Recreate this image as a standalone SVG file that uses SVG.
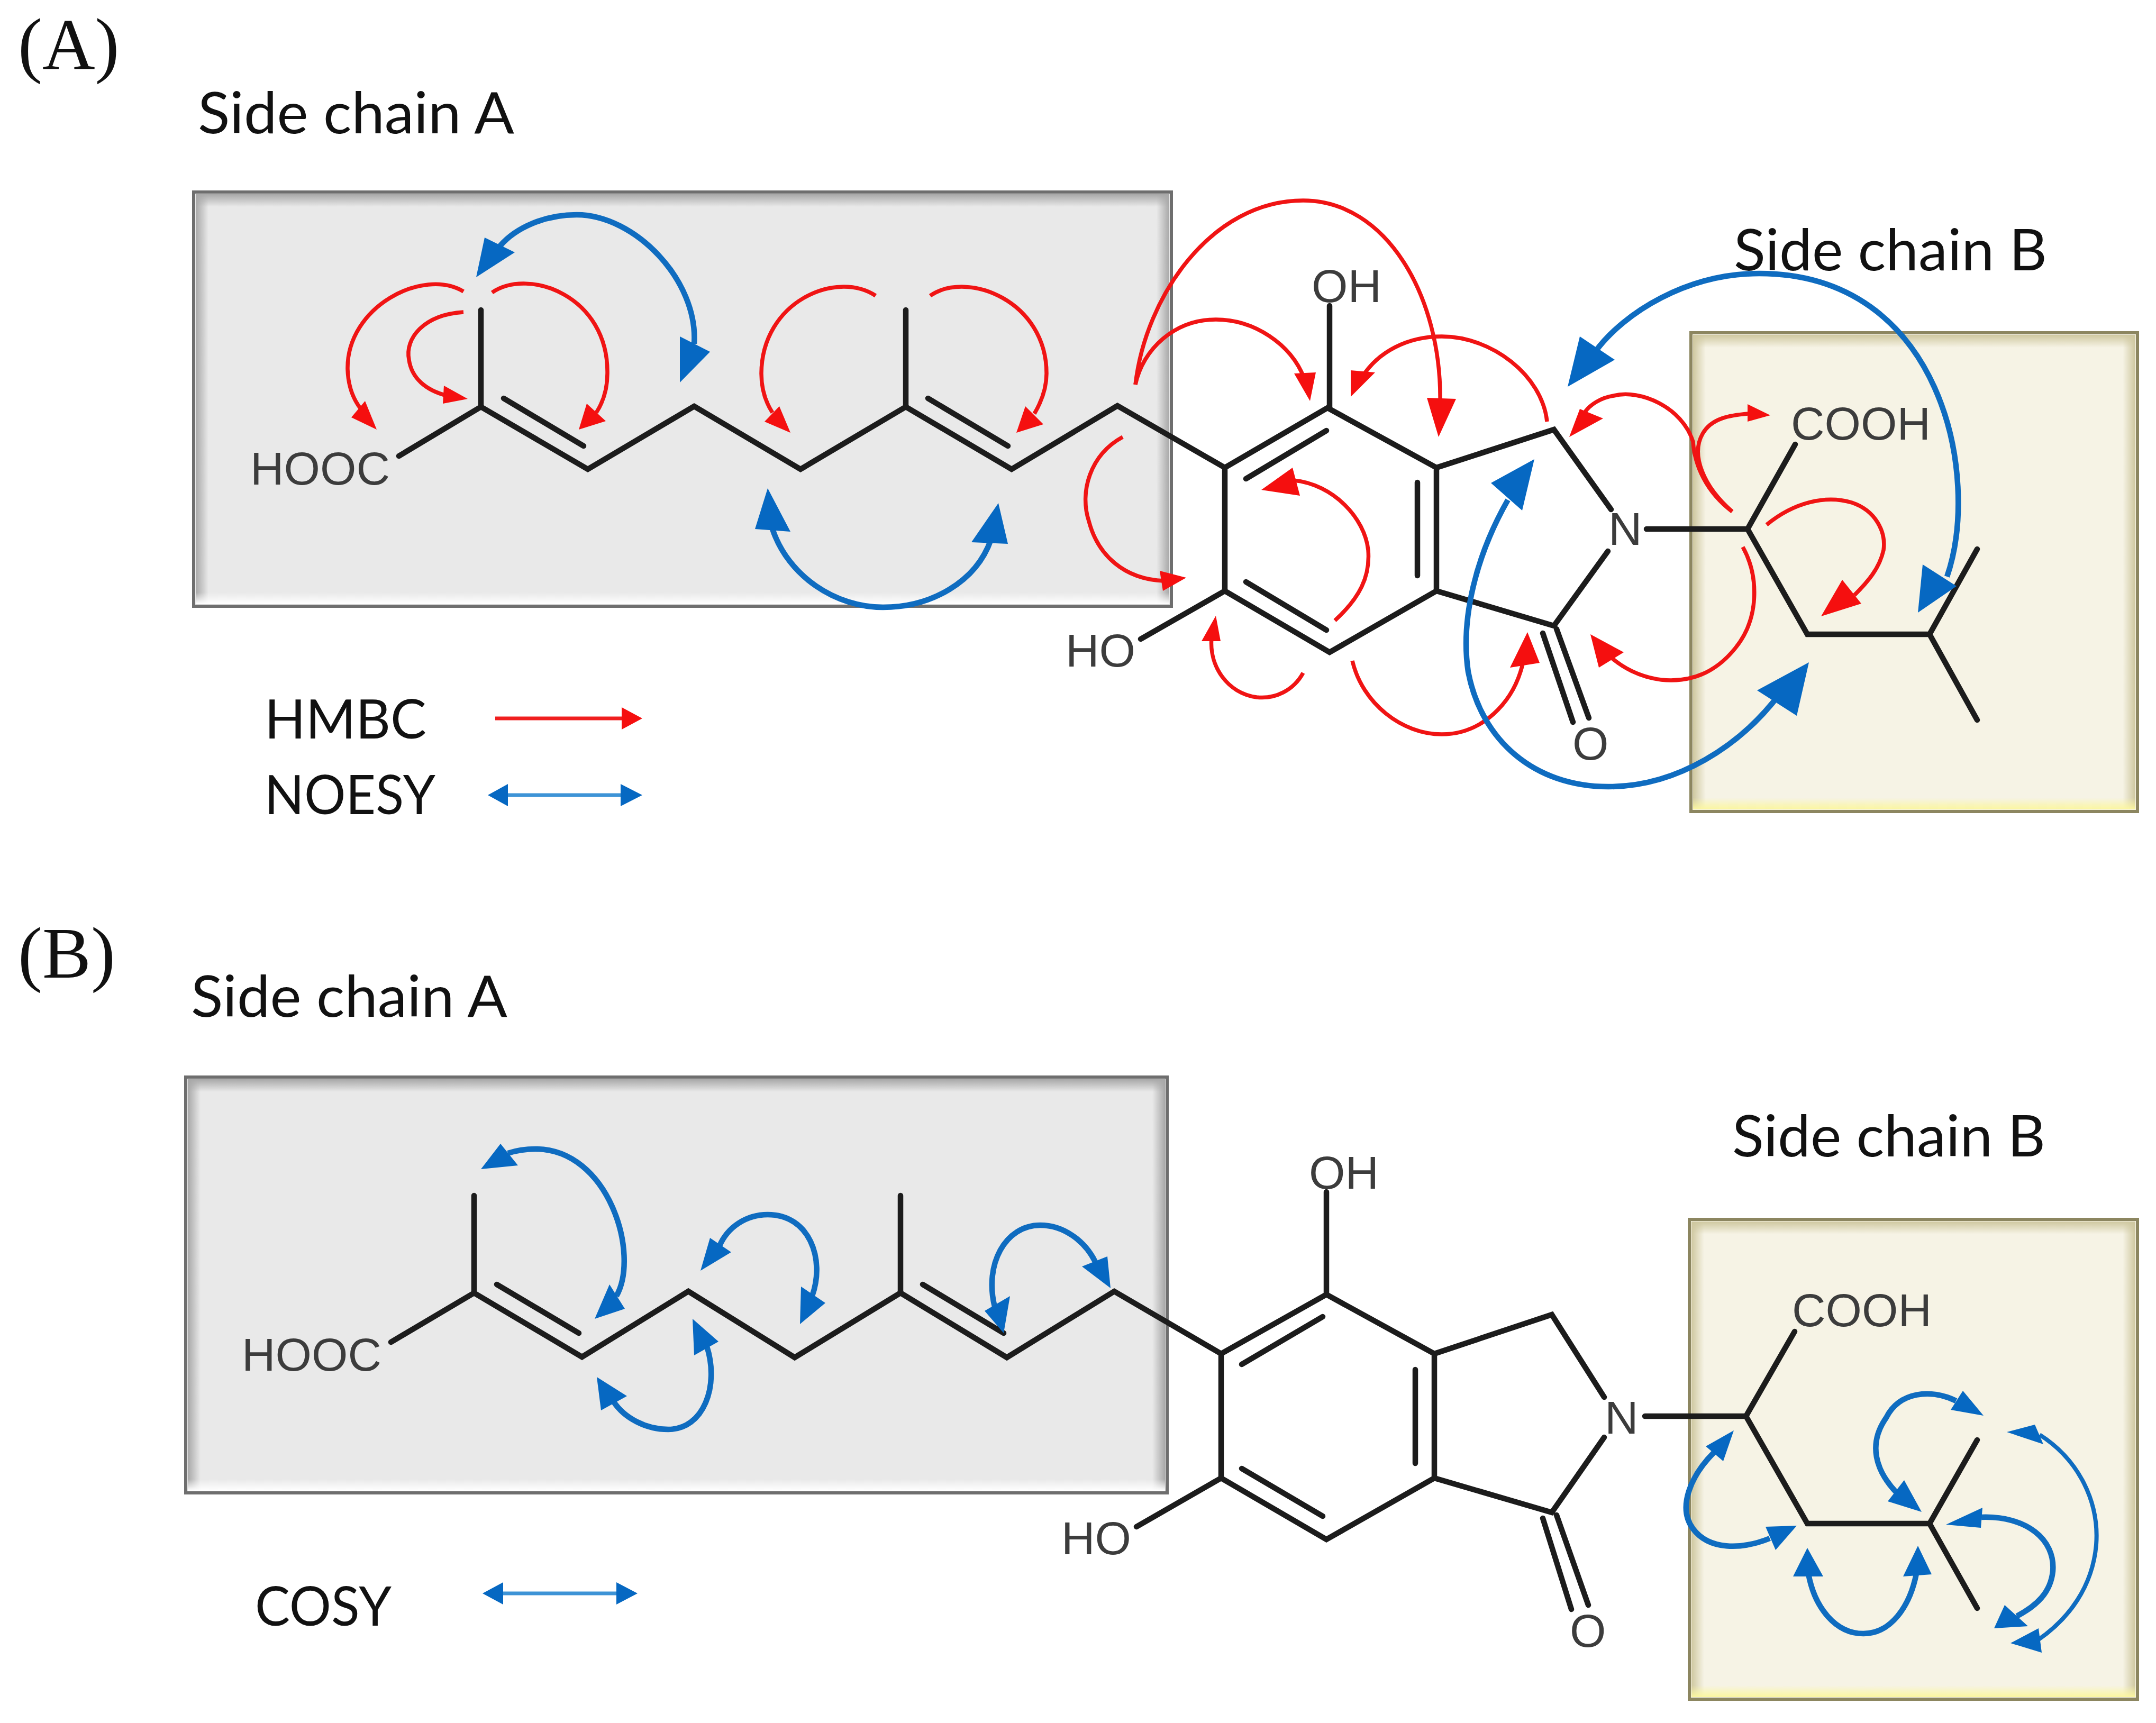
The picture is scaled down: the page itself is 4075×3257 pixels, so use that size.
<svg xmlns="http://www.w3.org/2000/svg" width="4075" height="3257" viewBox="0 0 4075 3257">
<style>
.box-g{fill:#e9e9e9;stroke:#6e6e6e;stroke-width:6}
.box-y{fill:#f6f3e5;stroke:#8c8660;stroke-width:6}
.b{fill:none;stroke:#1c1c1c;stroke-width:10.5;stroke-linecap:round;stroke-linejoin:miter}
.lbl{font-family:"Lato","Liberation Sans",sans-serif;fill:#111}
.s{font-size:108px}
.t{font-size:103px}
.chem{font-family:"Liberation Sans",Arial,sans-serif;fill:#3c3c3c}
.c88{font-size:88px}
.paren{font-family:"Liberation Serif","Times New Roman",serif;font-size:138px;fill:#111}
.r{fill:none;stroke:#f01414;stroke-width:7.5}
.rh{fill:#f50f0f}
.u{fill:none;stroke:#0f6cc0;stroke-width:10.5}
.v{fill:none;stroke:#0f6cc0;stroke-width:8}
.uh{fill:#0668c2}
.lg{fill:none;stroke:#3d93d6;stroke-width:7}
.lr{fill:none;stroke:#f01e1e;stroke-width:7}
</style>
<defs>
<linearGradient id="gT" x1="0" y1="0" x2="0" y2="1"><stop offset="0" stop-color="#a8a8a8"/><stop offset="1" stop-color="#a8a8a8" stop-opacity="0"/></linearGradient>
<linearGradient id="gL" x1="0" y1="0" x2="1" y2="0"><stop offset="0" stop-color="#a8a8a8"/><stop offset="1" stop-color="#a8a8a8" stop-opacity="0"/></linearGradient>
<linearGradient id="gR" x1="1" y1="0" x2="0" y2="0"><stop offset="0" stop-color="#a8a8a8"/><stop offset="1" stop-color="#a8a8a8" stop-opacity="0"/></linearGradient>
<linearGradient id="gB" x1="0" y1="1" x2="0" y2="0"><stop offset="0" stop-color="#ffffff"/><stop offset="1" stop-color="#ffffff" stop-opacity="0"/></linearGradient>
<linearGradient id="yT" x1="0" y1="0" x2="0" y2="1"><stop offset="0" stop-color="#cfc8a0"/><stop offset="1" stop-color="#cfc8a0" stop-opacity="0"/></linearGradient>
<linearGradient id="yL" x1="0" y1="0" x2="1" y2="0"><stop offset="0" stop-color="#cfc8a0"/><stop offset="1" stop-color="#cfc8a0" stop-opacity="0"/></linearGradient>
<linearGradient id="yR" x1="1" y1="0" x2="0" y2="0"><stop offset="0" stop-color="#cfc8a0"/><stop offset="1" stop-color="#cfc8a0" stop-opacity="0"/></linearGradient>
<linearGradient id="yB" x1="0" y1="1" x2="0" y2="0"><stop offset="0" stop-color="#fbf6a0"/><stop offset="1" stop-color="#fbf6a0" stop-opacity="0"/></linearGradient>
</defs>

<g id="box-a-chain-a">
<rect class="box-g" x="366" y="363" width="1848" height="783"/>
<rect x="370" y="367" width="1840" height="24" fill="url(#gT)"/>
<rect x="370" y="367" width="24" height="775" fill="url(#gL)"/>
<rect x="2186" y="367" width="24" height="775" fill="url(#gR)"/>
<rect x="370" y="1120" width="1840" height="22" fill="url(#gB)"/>
</g>
<g id="box-a-chain-b">
<rect class="box-y" x="3196" y="629" width="844" height="905"/>
<rect x="3200" y="633" width="836" height="24" fill="url(#yT)"/>
<rect x="3200" y="633" width="24" height="897" fill="url(#yL)"/>
<rect x="4012" y="633" width="24" height="897" fill="url(#yR)"/>
<rect x="3200" y="1508" width="836" height="22" fill="url(#yB)"/>
</g>
<g id="box-b-chain-a">
<rect class="box-g" x="351" y="2036" width="1855" height="786"/>
<rect x="355" y="2040" width="1847" height="24" fill="url(#gT)"/>
<rect x="355" y="2040" width="24" height="778" fill="url(#gL)"/>
<rect x="2178" y="2040" width="24" height="778" fill="url(#gR)"/>
<rect x="355" y="2796" width="1847" height="22" fill="url(#gB)"/>
</g>
<g id="box-b-chain-b">
<rect class="box-y" x="3193" y="2305" width="847" height="907"/>
<rect x="3197" y="2309" width="839" height="24" fill="url(#yT)"/>
<rect x="3197" y="2309" width="24" height="899" fill="url(#yL)"/>
<rect x="4012" y="2309" width="24" height="899" fill="url(#yR)"/>
<rect x="3197" y="3186" width="839" height="22" fill="url(#yB)"/>
</g>

<g id="molecule-a">
<path class="b" d="M754,862L909,769L1111,887L1312,768L1513,887L1712,769L1912,887L2112,767L2315,884L2509,771L2715,884L2715,1117L2513,1233L2315,1117L2315,884"/>
<path class="b" d="M909,586V769M1712,586V769M952,753L1103,843M1754,753L1905,843M2355,905L2507,814M2679,912V1088M2355,1100L2507,1191M2513,771V578M2156,1208L2315,1117M2715,884L2937,812L3045,963M3039,1042L2937,1183L2715,1117M2916,1197L2973,1365M2942,1189L3003,1357M3112,1000H3303L3393,840M3303,1000L3416,1199H3647L3737,1038M3647,1199L3737,1361"/>
</g>
<g id="molecule-b">
<path class="b" d="M739,2537L896,2444L1100,2565L1301,2441L1502,2566L1702,2444L1903,2566L2106,2441L2308,2559L2507,2447L2711,2559L2711,2794L2507,2910L2308,2794L2308,2559"/>
<path class="b" d="M896,2260V2444M1702,2260V2444M939,2428L1094,2520M1744,2428L1897,2520M2347,2579L2500,2489M2675,2589V2766M2347,2776L2500,2866M2507,2447V2253M2148,2886L2308,2794M2711,2559L2933,2485L3032,2641M3032,2717L2933,2859L2711,2794M2916,2870L2970,3042M2942,2864L3002,3034M3109,2677H3300L3392,2517M3300,2677L3416,2880H3647L3737,2722M3647,2880L3737,3040"/>
</g>

<g id="labels">
<text class="paren" x="34" y="130">(A)</text>
<text class="paren" x="34" y="1848">(B)</text>
<text class="lbl s" x="374" y="252" textLength="598" lengthAdjust="spacingAndGlyphs">Side chain A</text>
<text class="lbl s" x="3277" y="511" textLength="592" lengthAdjust="spacingAndGlyphs">Side chain B</text>
<text class="lbl s" x="361" y="1922" textLength="598" lengthAdjust="spacingAndGlyphs">Side chain A</text>
<text class="lbl s" x="3274" y="2186" textLength="592" lengthAdjust="spacingAndGlyphs">Side chain B</text>
<text class="lbl t" x="500" y="1396" textLength="306" lengthAdjust="spacingAndGlyphs">HMBC</text>
<text class="lbl t" x="500" y="1539" textLength="323" lengthAdjust="spacingAndGlyphs">NOESY</text>
<text class="lbl t" x="482" y="3073" textLength="258" lengthAdjust="spacingAndGlyphs">COSY</text>
<text class="chem c88" x="473" y="916">HOOC</text>
<text class="chem c88" x="2479" y="571">OH</text>
<text class="chem c88" x="2014" y="1260">HO</text>
<text class="chem c88" x="3040" y="1030">N</text>
<text class="chem c88" x="2972" y="1436">O</text>
<text class="chem c88" x="3385" y="831">COOH</text>
<text class="chem c88" x="457" y="2591">HOOC</text>
<text class="chem c88" x="2474" y="2247">OH</text>
<text class="chem c88" x="2006" y="2938">HO</text>
<text class="chem c88" x="3033" y="2710">N</text>
<text class="chem c88" x="2967" y="3113">O</text>
<text class="chem c88" x="3387" y="2507">COOH</text>
</g>

<g id="connectors">
<!-- panel A HMBC -->
<path class="r" d="M876,551C800,505 655,580 657,698C658,730 668,755 682,773"/>
<polygon class="rh" points="712,812 664,789 690,758"/>
<path class="r" d="M876,590C800,595 765,640 773,680C778,715 805,738 845,748"/>
<polygon class="rh" points="884,754 839,729 837,763"/>
<path class="r" d="M930,553C1000,505 1150,560 1148,706C1148,735 1140,760 1127,780"/>
<polygon class="rh" points="1094,812 1109,763 1145,796"/>
<path class="r" d="M1655,559C1580,510 1440,570 1439,706C1439,735 1447,760 1460,780"/>
<polygon class="rh" points="1494,818 1445,797 1473,768"/>
<path class="r" d="M1758,559C1830,510 1978,570 1978,706C1978,735 1968,760 1955,782"/>
<polygon class="rh" points="1921,818 1938,768 1972,802"/>
<path class="r" d="M2122,826C2060,860 2040,930 2058,985C2075,1050 2125,1095 2200,1098"/>
<polygon class="rh" points="2242,1092 2192,1079 2198,1117"/>
<path class="r" d="M2146,727C2165,560 2290,379 2463,379C2620,379 2725,560 2722,760"/>
<polygon class="rh" points="2719,826 2697,752 2752,754"/>
<path class="r" d="M2146,727C2160,660 2220,604 2298,604C2370,604 2440,650 2465,715"/>
<polygon class="rh" points="2476,758 2446,706 2487,704"/>
<path class="r" d="M2924,797C2915,710 2820,636 2725,636C2660,636 2605,665 2575,712"/>
<polygon class="rh" points="2553,750 2553,700 2599,704"/>
<path class="r" d="M3274,967C3225,930 3203,880 3200,835C3180,770 3100,735 3050,748C3025,752 3005,765 2995,780"/>
<polygon class="rh" points="2966,826 2986,773 3030,791"/>
<path class="r" d="M3274,967C3220,920 3195,860 3218,820C3235,790 3270,785 3305,782"/>
<polygon class="rh" points="3346,785 3303,764 3303,797"/>
<path class="r" d="M2523,1173C2570,1130 2590,1090 2586,1040C2580,980 2520,915 2445,908"/>
<polygon class="rh" points="2384,926 2443,884 2457,937"/>
<path class="r" d="M2463,1272C2445,1305 2410,1322 2375,1318C2320,1310 2285,1260 2290,1205"/>
<polygon class="rh" points="2298,1164 2271,1212 2307,1212"/>
<path class="r" d="M2556,1249C2575,1330 2650,1388 2725,1388C2800,1388 2860,1330 2878,1255"/>
<polygon class="rh" points="2887,1195 2854,1262 2910,1253"/>
<path class="r" d="M3294,1034C3325,1090 3325,1170 3280,1225C3240,1275 3190,1290 3140,1285C3100,1280 3065,1262 3040,1238"/>
<polygon class="rh" points="3006,1199 3022,1262 3069,1233"/>
<path class="r" d="M3339,992C3390,950 3450,935 3500,950C3545,965 3565,1005 3560,1040C3552,1075 3530,1100 3505,1125"/>
<polygon class="rh" points="3442,1165 3482,1096 3518,1141"/>
<!-- panel A NOESY -->
<path class="u" d="M1312,650C1320,530 1200,406 1090,406C1030,406 975,430 945,465"/>
<polygon class="uh" points="900,524 916,449 973,477"/>
<polygon class="uh" points="1285,723 1285,636 1342,665"/>
<path class="u" d="M1460,1000C1490,1090 1580,1148 1669,1148C1760,1148 1845,1100 1873,1020"/>
<polygon class="uh" points="1451,923 1427,1000 1494,1005"/>
<polygon class="uh" points="1887,951 1836,1025 1905,1028"/>
<path class="u" d="M3680,1090C3745,900 3670,517 3325,517C3190,517 3070,590 3015,665"/>
<polygon class="uh" points="2963,731 2986,636 3052,680"/>
<polygon class="uh" points="3625,1158 3634,1067 3698,1108"/>
<path class="u" d="M2850,945C2790,1050 2760,1170 2775,1270C2800,1400 2900,1487 3040,1487C3170,1487 3290,1410 3365,1310"/>
<polygon class="uh" points="2900,868 2818,913 2877,965"/>
<polygon class="uh" points="3419,1252 3321,1305 3396,1353"/>
<!-- legends -->
<path class="lr" d="M936,1358H1180"/>
<polygon class="rh" points="1214,1358 1175,1337 1175,1379"/>
<path class="lg" d="M955,1503H1180"/>
<polygon class="uh" points="922,1503 960,1482 960,1524"/>
<polygon class="uh" points="1214,1503 1173,1482 1173,1524"/>
<path class="lg" d="M945,3012H1170"/>
<polygon class="uh" points="912,3012 951,2991 951,3033"/>
<polygon class="uh" points="1205,3012 1165,2991 1165,3033"/>
<!-- panel B COSY -->
<path class="u" d="M1165,2450C1210,2370 1150,2172 1012,2172C992,2172 975,2175 960,2180"/>
<polygon class="uh" points="909,2210 946,2162 979,2203"/>
<polygon class="uh" points="1124,2493 1152,2428 1181,2474"/>
<path class="u" d="M1535,2450C1560,2380 1530,2296 1451,2296C1410,2296 1375,2320 1360,2355"/>
<polygon class="uh" points="1324,2402 1342,2340 1382,2367"/>
<polygon class="uh" points="1512,2503 1514,2432 1560,2463"/>
<path class="u" d="M1880,2470C1860,2390 1900,2316 1966,2316C2010,2316 2050,2345 2070,2385"/>
<polygon class="uh" points="2099,2435 2093,2375 2045,2394"/>
<polygon class="uh" points="1897,2520 1861,2478 1909,2450"/>
<path class="u" d="M1336,2545C1360,2620 1330,2702 1263,2702C1220,2702 1180,2680 1160,2650"/>
<polygon class="uh" points="1309,2493 1312,2562 1358,2536"/>
<polygon class="uh" points="1128,2603 1136,2666 1185,2639"/>
<path class="u" d="M3240,2745C3195,2790 3170,2850 3200,2890C3230,2930 3290,2930 3345,2908"/>
<polygon class="uh" points="3277,2704 3224,2734 3257,2762"/>
<polygon class="uh" points="3396,2884 3337,2886 3356,2930"/>
<path class="u" d="M3697,2648C3650,2625 3590,2630 3565,2680C3530,2730 3545,2780 3585,2822"/>
<polygon class="uh" points="3749,2676 3710,2629 3687,2665"/>
<polygon class="uh" points="3632,2858 3599,2798 3568,2838"/>
<path class="u" d="M3418,2975C3430,3040 3470,3088 3522,3088C3575,3088 3610,3035 3622,2975"/>
<polygon class="uh" points="3416,2926 3389,2980 3446,2980"/>
<polygon class="uh" points="3625,2922 3597,2980 3651,2976"/>
<path class="u" d="M3745,2868C3830,2865 3885,2910 3880,2970C3876,3010 3850,3035 3812,3055"/>
<polygon class="uh" points="3678,2882 3747,2850 3744,2888"/>
<polygon class="uh" points="3769,3078 3789,3034 3833,3074"/>
<path class="v" d="M3855,2712C3930,2760 3968,2840 3962,2920C3955,3000 3910,3060 3852,3100"/>
<polygon class="uh" points="3793,2707 3846,2693 3862,2730"/>
<polygon class="uh" points="3800,3106 3853,3078 3859,3124"/>
</g>
</svg>
